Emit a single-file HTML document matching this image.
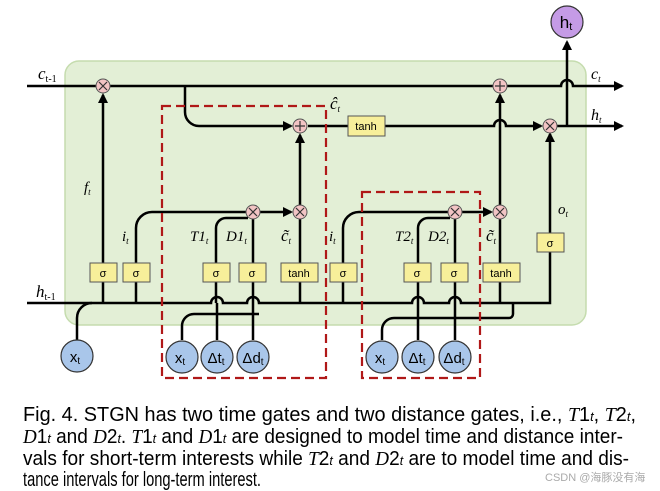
<!DOCTYPE html>
<html><head><meta charset="utf-8"><style>
body{margin:0;background:#fff}
svg{display:block}
.t{font-family:"Liberation Serif",serif;font-style:italic;font-size:15px}
.b{font-family:"Liberation Sans",sans-serif;font-size:11px;text-anchor:middle}
.c{font-family:"Liberation Sans",sans-serif;font-size:20px}
</style></head><body>
<svg width="660" height="491" viewBox="0 0 660 491" xmlns="http://www.w3.org/2000/svg">
<defs><marker id="a" markerWidth="10" markerHeight="10" refX="8" refY="5" orient="auto" markerUnits="userSpaceOnUse"><path d="M0,0L10,5L0,10z" fill="#000"/></marker></defs>
<rect x="65" y="61" width="521" height="264" rx="14" fill="#e3efd6" stroke="#c5dcae" stroke-width="1.5"/>
<g fill="none" stroke="#000" stroke-width="2.5">
<path d="M27,86H561a6,6 0 0 1 12,0H622" marker-end="url(#a)"/>
<path d="M27,303H211a6,6 0 0 1 12,0H247a6,6 0 0 1 12,0H412a6,6 0 0 1 12,0H449a6,6 0 0 1 12,0H550V134" marker-end="url(#a)"/>
<path d="M185,86V112a14,14 0 0 0 14,14H291" marker-end="url(#a)"/>
<path d="M308,126H494a6,6 0 0 1 12,0H541" marker-end="url(#a)"/>
<path d="M556,126H622" marker-end="url(#a)"/>
<path d="M567,126V42" marker-end="url(#a)"/>
<path d="M103,303V95" marker-end="url(#a)"/>
<path d="M136,303V228a16,16 0 0 1 16,-16H291" marker-end="url(#a)"/>
<path d="M216,303V228a10,10 0 0 1 10,-10H248"/>
<path d="M253,303V212"/>
<path d="M300,303V135" marker-end="url(#a)"/>
<path d="M343,303V228a16,16 0 0 1 16,-16H491" marker-end="url(#a)"/>
<path d="M418,303V228a10,10 0 0 1 10,-10H450"/>
<path d="M455,303V212"/>
<path d="M500,303V95" marker-end="url(#a)"/>
<path d="M77,340V318a15,15 0 0 1 15,-15"/>
<path d="M182,340V326a12,12 0 0 1 12,-12H259"/>
<path d="M382,340V330a12,12 0 0 1 12,-12H509a4,4 0 0 0 4,-4V303"/>
<path d="M217,340V303M253,340V303M418,340V303M455,340V303"/>
</g>
<g fill="#f7ef9a" stroke="#555" stroke-width="1">
<rect x="90" y="263" width="27" height="19"/><rect x="123" y="263" width="27" height="19"/>
<rect x="203" y="263" width="27" height="19"/><rect x="239" y="263" width="27" height="19"/>
<rect x="281" y="263" width="37" height="19"/>
<rect x="330" y="263" width="27" height="19"/><rect x="404" y="263" width="27" height="19"/>
<rect x="441" y="263" width="27" height="19"/><rect x="483" y="263" width="37" height="19"/>
<rect x="537" y="233" width="27" height="19"/>
<rect x="348" y="116" width="37" height="20"/>
</g>
<g class="b">
<text x="103" y="277">σ</text><text x="136" y="277">σ</text><text x="216" y="277">σ</text><text x="252" y="277">σ</text><text x="299" y="277">tanh</text>
<text x="343" y="277">σ</text><text x="417" y="277">σ</text><text x="454" y="277">σ</text><text x="501" y="277">tanh</text>
<text x="550" y="247">σ</text><text x="366" y="130">tanh</text>
</g>
<g fill="#f2c4c4" stroke="#555" stroke-width="1">
<circle cx="103" cy="86" r="7"/><circle cx="300" cy="126" r="7"/><circle cx="253" cy="212" r="7"/><circle cx="300" cy="212" r="7"/>
<circle cx="500" cy="86" r="7"/><circle cx="550" cy="126" r="7"/><circle cx="455" cy="212" r="7"/><circle cx="500" cy="212" r="7"/>
</g>
<g stroke="#333" stroke-width="1.2">
<path d="M99,82l8,8M107,82l-8,8M249,208l8,8M257,208l-8,8M296,208l8,8M304,208l-8,8M546,122l8,8M554,122l-8,8M451,208l8,8M459,208l-8,8M496,208l8,8M504,208l-8,8"/>
<path d="M295,126h10M300,121v10M495,86h10M500,81v10"/>
</g>
<g fill="none" stroke="#b01818" stroke-width="2.2" stroke-dasharray="9,5">
<rect x="162" y="106" width="164" height="272"/><rect x="362" y="192" width="118" height="186"/>
</g>
<g fill="#a9c6ea" stroke="#333" stroke-width="1.2">
<circle cx="77" cy="356" r="16"/><circle cx="182" cy="357" r="16"/><circle cx="217" cy="357" r="16"/><circle cx="253" cy="357" r="16"/>
<circle cx="382" cy="357" r="16"/><circle cx="418" cy="357" r="16"/><circle cx="455" cy="357" r="16"/>
</g>
<circle cx="567" cy="22" r="16" fill="#c59be6" stroke="#333" stroke-width="1.2"/>
<g font-family="Liberation Sans,sans-serif" font-size="15" text-anchor="middle">
<text x="75" y="362">x<tspan font-size="10" dy="2">t</tspan></text>
<text x="180" y="363">x<tspan font-size="10" dy="2">t</tspan></text>
<text x="216" y="363">Δt<tspan font-size="10" dy="2">t</tspan></text>
<text x="253" y="363">Δd<tspan font-size="10" dy="2">t</tspan></text>
<text x="380" y="363">x<tspan font-size="10" dy="2">t</tspan></text>
<text x="417" y="363">Δt<tspan font-size="10" dy="2">t</tspan></text>
<text x="454" y="363">Δd<tspan font-size="10" dy="2">t</tspan></text>
<text x="566" y="28" font-size="17">h<tspan font-size="11" dy="2">t</tspan></text>
</g>
<g class="t">
<text x="38" y="79" font-size="17">c<tspan font-size="10" font-style="normal" dy="3">t-1</tspan></text>
<text x="36" y="297" font-size="17">h<tspan font-size="10" font-style="normal" dy="3">t-1</tspan></text>
<text x="84" y="192">f<tspan font-size="9" dy="3">t</tspan></text>
<text x="122" y="241">i<tspan font-size="9" dy="3">t</tspan></text>
<text x="190" y="241">T1<tspan font-size="9" dy="3">t</tspan></text>
<text x="226" y="241">D1<tspan font-size="9" dy="3">t</tspan></text>
<text x="281" y="241" font-size="17">c̃<tspan font-size="9" dy="3">t</tspan></text>
<text x="330" y="109" font-size="17">ĉ<tspan font-size="9" dy="3">t</tspan></text>
<text x="329" y="241">i<tspan font-size="9" dy="3">t</tspan></text>
<text x="395" y="241">T2<tspan font-size="9" dy="3">t</tspan></text>
<text x="428" y="241">D2<tspan font-size="9" dy="3">t</tspan></text>
<text x="486" y="241" font-size="17">c̃<tspan font-size="9" dy="3">t</tspan></text>
<text x="558" y="214">o<tspan font-size="9" dy="3">t</tspan></text>
<text x="591" y="79" font-size="16">c<tspan font-size="9" dy="3">t</tspan></text>
<text x="591" y="120" font-size="16">h<tspan font-size="9" dy="3">t</tspan></text>
</g>
<g class="c">
<text x="23" y="421" textLength="613" lengthAdjust="spacingAndGlyphs">Fig. 4. STGN has two time gates and two distance gates, i.e., <tspan font-family="Liberation Serif" font-style="italic">T</tspan>1<tspan font-size="13" font-style="italic">t</tspan>, <tspan font-family="Liberation Serif" font-style="italic">T</tspan>2<tspan font-size="13" font-style="italic">t</tspan>,</text>
<text x="23" y="443" textLength="600" lengthAdjust="spacingAndGlyphs"><tspan font-family="Liberation Serif" font-style="italic">D</tspan>1<tspan font-size="13" font-style="italic">t</tspan> and <tspan font-family="Liberation Serif" font-style="italic">D</tspan>2<tspan font-size="13" font-style="italic">t</tspan>. <tspan font-family="Liberation Serif" font-style="italic">T</tspan>1<tspan font-size="13" font-style="italic">t</tspan> and <tspan font-family="Liberation Serif" font-style="italic">D</tspan>1<tspan font-size="13" font-style="italic">t</tspan> are designed to model time and distance inter-</text>
<text x="23" y="465" textLength="606" lengthAdjust="spacingAndGlyphs">vals for short-term interests while <tspan font-family="Liberation Serif" font-style="italic">T</tspan>2<tspan font-size="13" font-style="italic">t</tspan> and <tspan font-family="Liberation Serif" font-style="italic">D</tspan>2<tspan font-size="13" font-style="italic">t</tspan> are to model time and dis-</text>
<text x="23" y="486" textLength="238" lengthAdjust="spacingAndGlyphs">tance intervals for long-term interest.</text>
</g>
<text x="545" y="481" font-family="Liberation Sans,'Noto Sans CJK SC',sans-serif" font-size="11" fill="#aaa">CSDN @海豚没有海</text>
</svg>
</body></html>
